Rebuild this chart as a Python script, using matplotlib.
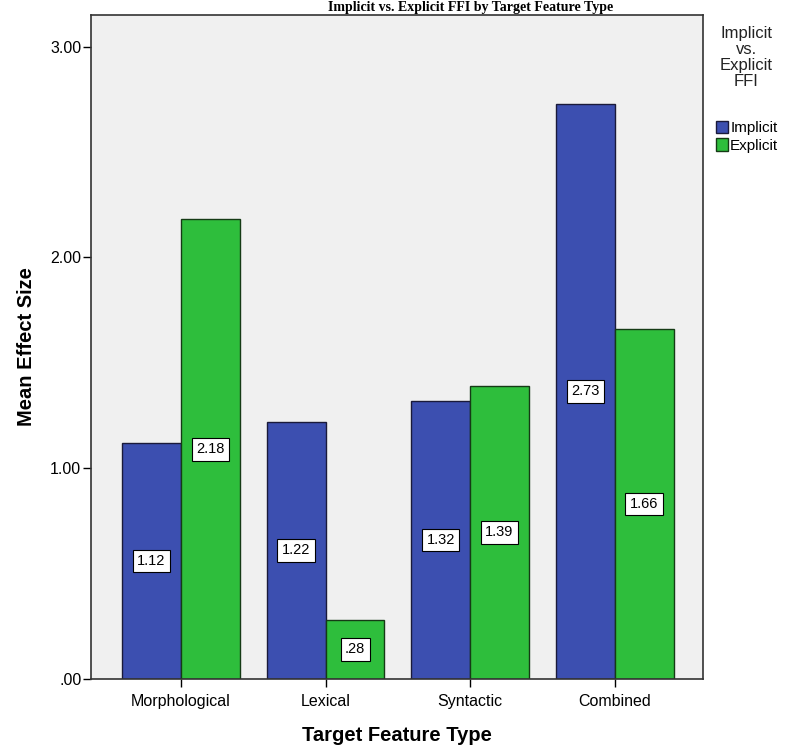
import matplotlib.pyplot as plt
import numpy as np

# data
categories = ['Morphological', 'Lexical', 'Syntactic', 'Combined']
implicit = [1.12, 1.22, 1.32, 2.73]
explicit = [2.18, 0.28, 1.39, 1.66]
implicit_labels = ['1.12', '1.22', '1.32', '2.73']
explicit_labels = ['2.18', '.28', '1.39', '1.66']
yticks = [0, 1, 2, 3]
ytick_labels = ['.00', '1.00', '2.00', '3.00']

plt.rcParams['font.family'] = ['Liberation Sans', 'DejaVu Sans']

fig = plt.figure(figsize=(7.85, 7.49), dpi=100)
ax = fig.add_axes([91 / 785, 70 / 749, 612 / 785, 664 / 749])
ax.set_facecolor('#f0f0f0')

x = np.arange(len(categories))
w = 0.408
b1 = ax.bar(x - w / 2, implicit, w, color='#3c4fb0', edgecolor='#1a1a3a', linewidth=1, label='Implicit')
b2 = ax.bar(x + w / 2, explicit, w, color='#2ebe3c', edgecolor='#153a15', linewidth=1, label='Explicit')

# value labels in the middle of each bar
box = dict(boxstyle='square,pad=0.3', facecolor='white', edgecolor='black', linewidth=0.8)
for xi, v, t in zip(x - w / 2, implicit, implicit_labels):
    ax.text(xi, v / 2, t, ha='center', va='center', fontsize=10.5, bbox=box)
for xi, v, t in zip(x + w / 2, explicit, explicit_labels):
    ax.text(xi, v / 2, t, ha='center', va='center', fontsize=10.5, bbox=box)

ax.set_xlim(-0.623, 3.612)
ax.set_ylim(0, 3.15)
ax.set_xticks(x)
ax.set_xticklabels(categories, fontsize=11.5)
ax.set_yticks(yticks)
ax.set_yticklabels(ytick_labels, fontsize=11.5)
ax.tick_params(axis='both', length=6, width=1, color='black', pad=3)
ax.tick_params(axis='x', pad=5)
ax.tick_params(axis='y', pad=1)
for s in ax.spines.values():
    s.set_linewidth(1.2)
    s.set_color('#333333')

ax.set_ylabel('Mean Effect Size', fontsize=14.5, fontweight='bold', labelpad=10)
ax.set_xlabel('Target Feature Type', fontsize=14.5, fontweight='bold', labelpad=12)

# title (mostly cut off in the original, kept small at the very top)
fig.text(0.6, 1 - 1 / 749, 'Implicit vs. Explicit FFI by Target Feature Type', ha='center', va='top',
         fontsize=10, fontweight='bold', family=['Liberation Serif', 'DejaVu Serif'])

# legend
fig.text(746 / 785, 1 - 26 / 749, 'Implicit\nvs.\nExplicit\nFFI', ha='center', va='top',
         fontsize=12, color='#222222', linespacing=1.08)
leg = fig.legend(handles=[b1, b2], labels=['Implicit', 'Explicit'], loc='upper left',
                 bbox_to_anchor=(705 / 785, 1 - 110 / 749), frameon=False, fontsize=11,
                 handlelength=0.8, handleheight=0.9, handletextpad=0.15, labelspacing=0.2,
                 borderpad=0.2)

fig.savefig('out.png', dpi=100)
